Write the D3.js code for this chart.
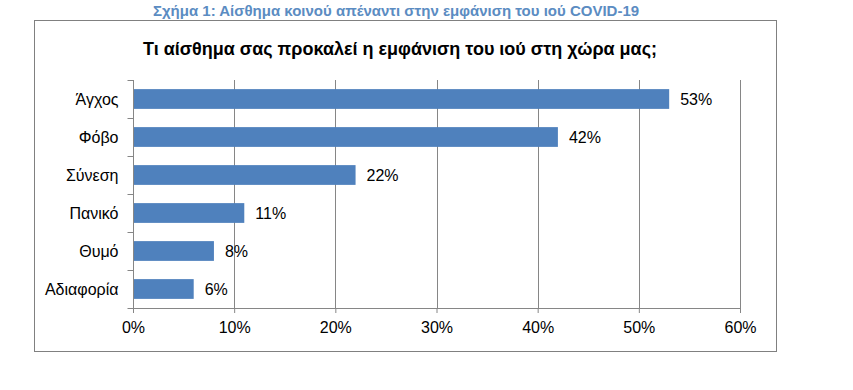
<!DOCTYPE html>
<html>
<head>
<meta charset="utf-8">
<script src="https://cdn.jsdelivr.net/npm/d3@7"></script>
<style>
  body { margin: 0; background: #fff; }
  svg { display: block; }
</style>
</head>
<body>
<svg id="chart" width="853" height="390"></svg>
<script>
let categories = ["Άγχος", "Φόβο", "Σύνεση", "Πανικό", "Θυμό", "Αδιαφορία"];
let values = [53, 42, 22, 11, 8, 6];
let tickValues = [0, 10, 20, 30, 40, 50, 60];

let figureTitle = "Σχήμα 1: Αίσθημα κοινού απέναντι στην εμφάνιση του ιού COVID-19";
let chartTitle = "Τι αίσθημα σας προκαλεί η εμφάνιση του ιού στη χώρα μας;";

let narrow = "'Liberation Sans Narrow', 'Arial Narrow', 'Liberation Sans', Arial, sans-serif";

let svg = d3.select("#chart");

let margin = { top: 80, right: 113, bottom: 82, left: 133 };
let width = +svg.attr("width") - margin.left - margin.right;
let height = +svg.attr("height") - margin.top - margin.bottom;

// Outer frame
svg.append("rect")
  .attr("x", 34.5)
  .attr("y", 20.5)
  .attr("width", 742)
  .attr("height", 331)
  .attr("fill", "none")
  .attr("stroke", "#808080")
  .attr("stroke-width", 1);

// Figure caption above the frame
svg.append("text")
  .attr("x", 396)
  .attr("y", 16)
  .attr("text-anchor", "middle")
  .style("font-family", "'Liberation Sans', Arial, sans-serif")
  .style("font-weight", "bold")
  .style("font-size", "15px")
  .attr("fill", "#5b8cc2")
  .text(figureTitle);

// Chart title
svg.append("text")
  .attr("x", 400)
  .attr("y", 55)
  .attr("text-anchor", "middle")
  .style("font-family", narrow)
  .style("font-weight", "bold")
  .style("font-size", "18px")
  .attr("fill", "#000")
  .text(chartTitle);

let g = svg.append("g")
  .attr("transform", "translate(" + margin.left + "," + margin.top + ")");

let x = d3.scaleLinear().domain([0, 60]).range([0, width]);
let y = d3.scaleBand().domain(categories).range([0, height]).paddingInner(0.48).paddingOuter(0.24);

// Gridlines
g.append("g")
  .selectAll("line")
  .data(tickValues.slice(1))
  .enter()
  .append("line")
  .attr("x1", (d) => Math.round(x(d)) + 0.5)
  .attr("x2", (d) => Math.round(x(d)) + 0.5)
  .attr("y1", 0)
  .attr("y2", height)
  .attr("stroke", "#868686");

// Bars
g.append("g")
  .selectAll("rect")
  .data(values)
  .enter()
  .append("rect")
  .attr("x", 0)
  .attr("y", (d, i) => y(categories[i]))
  .attr("width", (d) => x(d))
  .attr("height", y.bandwidth())
  .attr("fill", "#4f81bd");

// Value labels
g.append("g")
  .selectAll("text")
  .data(values)
  .enter()
  .append("text")
  .attr("x", (d) => x(d) + 11)
  .attr("y", (d, i) => y(categories[i]) + y.bandwidth() / 2)
  .attr("dy", "0.35em")
  .style("font-family", narrow)
  .style("font-size", "16px")
  .attr("fill", "#000")
  .text((d) => d + "%");

// X axis
let xAxis = g.append("g")
  .attr("transform", "translate(0," + height + ")")
  .call(d3.axisBottom(x).tickValues(tickValues).tickSize(5).tickPadding(9).tickFormat((d) => d + "%"));
xAxis.select(".domain").attr("stroke", "#868686").attr("d", "M0.5,0.5H" + (width + 0.5));
xAxis.selectAll(".tick line").attr("stroke", "#868686").attr("y1", 0);
xAxis.selectAll(".tick text")
  .style("font-family", narrow)
  .style("font-size", "16px")
  .attr("fill", "#000");

// Y axis with ticks at category boundaries
let yAxis = g.append("g").attr("transform", "translate(0.5,0)");
yAxis.append("line")
  .attr("x1", 0).attr("x2", 0)
  .attr("y1", 0).attr("y2", height)
  .attr("stroke", "#868686");
yAxis.selectAll(".ytick")
  .data(d3.range(categories.length + 1))
  .enter()
  .append("line")
  .attr("class", "ytick")
  .attr("x1", -6).attr("x2", 0)
  .attr("y1", (i) => Math.round(i * height / categories.length) + 0.5)
  .attr("y2", (i) => Math.round(i * height / categories.length) + 0.5)
  .attr("stroke", "#868686");

yAxis.selectAll(".ylabel")
  .data(categories)
  .enter()
  .append("text")
  .attr("class", "ylabel")
  .attr("x", -15)
  .attr("y", (d) => y(d) + y.bandwidth() / 2)
  .attr("dy", "0.35em")
  .attr("text-anchor", "end")
  .style("font-family", narrow)
  .style("font-size", "16px")
  .attr("fill", "#000")
  .text((d) => d);
</script>
</body>
</html>
